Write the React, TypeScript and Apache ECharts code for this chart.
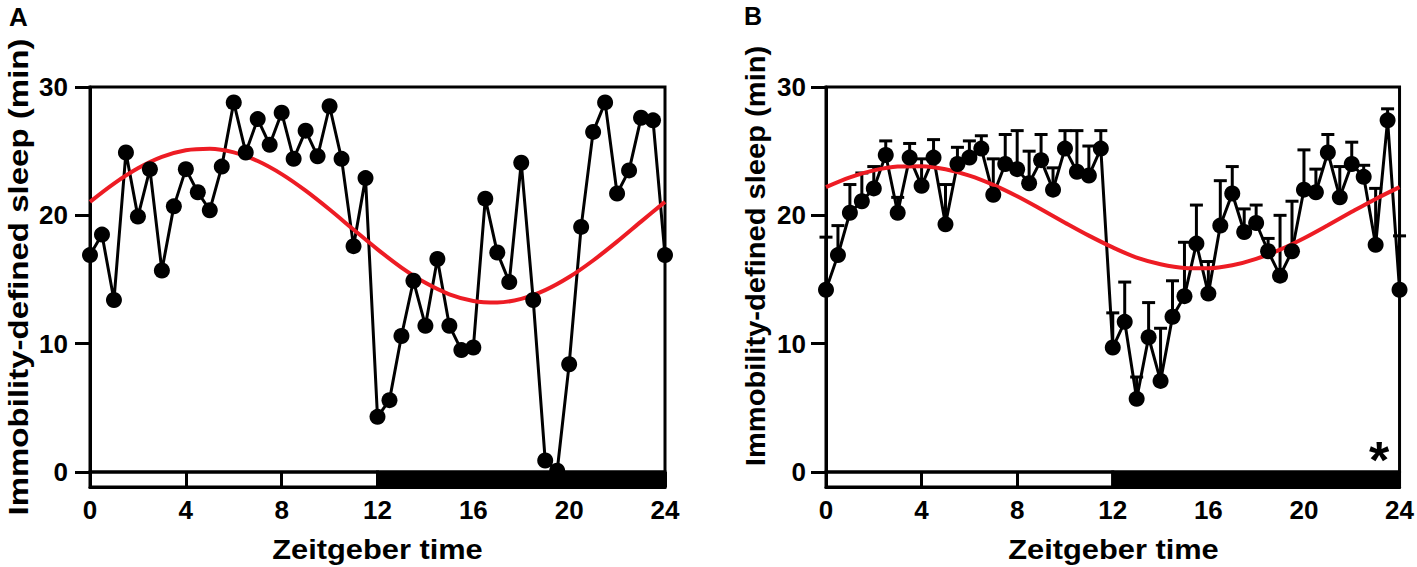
import React, { useEffect, useRef } from "react";
import * as echarts from "echarts";

// Zeitgeber time (h), one bin every 30 min
const hours = [
  0, 0.5, 1, 1.5, 2, 2.5, 3, 3.5, 4, 4.5, 5, 5.5, 6, 6.5, 7, 7.5, 8, 8.5, 9, 9.5, 10, 10.5, 11, 11.5,
  12, 12.5, 13, 13.5, 14, 14.5, 15, 15.5, 16, 16.5, 17, 17.5, 18, 18.5, 19, 19.5, 20, 20.5, 21, 21.5,
  22, 22.5, 23, 23.5, 24,
];

// Panel A: immobility-defined sleep (min)
const sleepA = [
  16.9, 18.5, 13.4, 24.9, 19.9, 23.6, 15.7, 20.7, 23.6, 21.8, 20.4, 23.8,
  28.8, 24.9, 27.5, 25.5, 28.0, 24.4, 26.6, 24.6, 28.5, 24.4, 17.6, 22.9,
  4.3, 5.6, 10.6, 14.9, 11.4, 16.6, 11.4, 9.5, 9.7, 21.3, 17.1, 14.8,
  24.1, 13.4, 0.9, 0.1, 8.4, 19.1, 26.5, 28.8, 21.7, 23.5, 27.6, 27.4, 16.9,
];

// Panel B: mean sleep (min) and upper end of error bar
const sleepB = [
  14.2, 16.9, 20.2, 21.1, 22.1, 24.7, 20.2, 24.5, 22.3, 24.5, 19.3, 24.0,
  24.5, 25.2, 21.6, 24.0, 23.6, 22.5, 24.3, 22.0, 25.2, 23.4, 23.1, 25.2,
  9.7, 11.7, 5.7, 10.5, 7.1, 12.1, 13.7, 17.8, 13.9, 19.2, 21.7, 18.7,
  19.4, 17.2, 15.3, 17.2, 22.0, 21.8, 24.9, 21.4, 24.0, 23.0, 17.7, 27.4, 14.2,
];
const upperB = [
  18.3, 19.2, 22.4, 23.3, 23.8, 25.8, 21.4, 25.6, 24.4, 25.9, 22.4, 25.3,
  25.8, 26.2, 24.4, 26.3, 26.6, 25.0, 26.3, 23.7, 26.6, 26.6, 25.4, 26.6,
  12.4, 14.8, 7.4, 13.2, 11.2, 14.9, 17.9, 20.8, 16.4, 22.7, 23.8, 20.5,
  20.8, 18.2, 20.0, 21.1, 25.1, 23.6, 26.3, 23.8, 25.7, 23.9, 22.1, 28.3, 18.4,
];

// Fitted curves (every hour)
const fitHours = [0, 1, 2, 3, 4, 5, 6, 7, 8, 9, 10, 11, 12, 13, 14, 15, 16, 17, 18, 19, 20, 21, 22, 23, 24];
const fitA = [
  21.05, 22.47, 23.66, 24.55, 25.07, 25.19, 24.91, 24.23, 23.21, 21.92, 20.45, 18.89, 17.35,
  15.93, 14.74, 13.85, 13.33, 13.21, 13.49, 14.17, 15.19, 16.48, 17.95, 19.51, 21.05,
];
const fitB = [
  22.2, 22.96, 23.5, 23.8, 23.83, 23.59, 23.09, 22.37, 21.48, 20.47, 19.43, 18.42, 17.5,
  16.7, 16.19, 15.9, 15.87, 16.11, 16.61, 17.33, 18.22, 19.23, 20.27, 21.28, 22.2,
];

// Light/dark phases
const phaseStart = [0, 12];
const phaseEnd = [12, 24];
const phaseDark = [0, 1];

const xTicks = { min: 0, max: 24, interval: 4 };
const yTicks = { min: 0, max: 30, interval: 10 };

const FONT = "'Liberation Sans', Arial, Helvetica, sans-serif";

function makeAxes(idx: number, labelMargin: number) {
  const xAxis = {
    type: "value",
    gridIndex: idx,
    ...xTicks,
    position: "bottom",
    offset: 15,
    axisLine: { show: true, onZero: false, lineStyle: { color: "#000", width: 3 } },
    axisTick: { show: true, inside: true, length: 15, lineStyle: { color: "#000", width: 3 } },
    axisLabel: { color: "#000", fontSize: 26, fontWeight: "bold", fontFamily: FONT, margin: 10 },
    splitLine: { show: false },
  };
  const yAxis = {
    type: "value",
    gridIndex: idx,
    ...yTicks,
    axisLine: { show: true, onZero: false, lineStyle: { color: "#000", width: 3 } },
    axisTick: { show: true, inside: false, length: 15, lineStyle: { color: "#000", width: 3 } },
    axisLabel: { color: "#000", fontSize: 26, fontWeight: "bold", fontFamily: FONT, margin: labelMargin },
    splitLine: { show: false },
  };
  return { xAxis, yAxis };
}

function ldSeries(idx: number) {
  return {
    type: "custom",
    xAxisIndex: idx,
    yAxisIndex: idx,
    clip: false,
    silent: true,
    z: 2,
    encode: { x: [0, 1], y: 2 },
    data: phaseStart.map((s, i) => [s, phaseEnd[i], 0, phaseDark[i]]),
    renderItem: (params: any, api: any) => {
      const p0 = api.coord([api.value(0), api.value(2)]);
      const p1 = api.coord([api.value(1), api.value(2)]);
      const dark = api.value(3) === 1;
      return {
        type: "rect",
        shape: { x: p0[0], y: p0[1], width: p1[0] - p0[0], height: 15 },
        style: { fill: dark ? "#000" : "none", stroke: "#000", lineWidth: 3 },
      };
    },
  };
}

function lineSeries(idx: number, vals: number[]) {
  return {
    type: "line",
    xAxisIndex: idx,
    yAxisIndex: idx,
    clip: false,
    symbol: "none",
    z: 4,
    lineStyle: { color: "#000", width: 3 },
    data: hours.map((h, i) => [h, vals[i]]),
  };
}

function fitSeries(idx: number, vals: number[]) {
  return {
    type: "line",
    xAxisIndex: idx,
    yAxisIndex: idx,
    clip: false,
    symbol: "none",
    smooth: 0.3,
    z: 5,
    lineStyle: { color: "#ED1C24", width: 4 },
    data: fitHours.map((h, i) => [h, vals[i]]),
  };
}

function dotSeries(idx: number, vals: number[]) {
  return {
    type: "scatter",
    xAxisIndex: idx,
    yAxisIndex: idx,
    clip: false,
    symbol: "circle",
    symbolSize: 16,
    z: 6,
    itemStyle: { color: "#000", opacity: 1 },
    data: hours.map((h, i) => [h, vals[i]]),
  };
}

function errSeries(idx: number, vals: number[], ups: number[]) {
  return {
    type: "custom",
    xAxisIndex: idx,
    yAxisIndex: idx,
    clip: false,
    silent: true,
    z: 3,
    encode: { x: 0, y: [1, 2] },
    data: hours.map((h, i) => [h, vals[i], ups[i]]),
    renderItem: (params: any, api: any) => {
      const p = api.coord([api.value(0), api.value(1)]);
      const q = api.coord([api.value(0), api.value(2)]);
      const st = { stroke: "#000", lineWidth: 3 };
      return {
        type: "group",
        children: [
          { type: "line", shape: { x1: p[0], y1: p[1], x2: q[0], y2: q[1] }, style: st },
          { type: "line", shape: { x1: q[0] - 6.5, y1: q[1], x2: q[0] + 6.5, y2: q[1] }, style: st },
        ],
      };
    },
  };
}

export default function App() {
  const ref = useRef<HTMLDivElement>(null);
  useEffect(() => {
    if (!ref.current) return;
    const chart = echarts.init(ref.current, null, { renderer: "svg" });
    const a = makeAxes(0, 22);
    const b = makeAxes(1, 20);
    const nameStyle = { fill: "#000", font: `bold 28px ${FONT}`, align: "center", verticalAlign: "middle" };
    chart.setOption({
      animation: false,
      backgroundColor: "#fff",
      textStyle: { fontFamily: FONT },
      grid: [
        { left: 90, top: 87, width: 575, height: 385, show: true, borderColor: "#000", borderWidth: 3, backgroundColor: "transparent" },
        { left: 826, top: 87, width: 575, height: 385, show: true, borderColor: "#000", borderWidth: 3, backgroundColor: "transparent" },
      ],
      xAxis: [a.xAxis, b.xAxis],
      yAxis: [a.yAxis, b.yAxis],
      series: [
        ldSeries(0),
        lineSeries(0, sleepA),
        fitSeries(0, fitA),
        dotSeries(0, sleepA),
        ldSeries(1),
        errSeries(1, sleepB, upperB),
        lineSeries(1, sleepB),
        fitSeries(1, fitB),
        dotSeries(1, sleepB),
      ],
      graphic: [
        { type: "text", left: 9, top: 4, style: { text: "A", fill: "#000", font: `bold 26px ${FONT}` } },
        { type: "text", left: 744, top: 3, style: { text: "B", fill: "#000", font: `bold 25px ${FONT}` } },
        { type: "text", x: 18, y: 277, rotation: Math.PI / 2, scaleX: 1.18, style: { ...nameStyle, text: "Immobility-defined sleep (min)" } },
        { type: "text", x: 755, y: 256, rotation: Math.PI / 2, scaleX: 1.04, style: { ...nameStyle, text: "Immobility-defined sleep (min)" } },
        { type: "text", x: 377.5, y: 549, scaleX: 1.1, style: { ...nameStyle, text: "Zeitgeber time" } },
        { type: "text", x: 1113.5, y: 549, scaleX: 1.1, style: { ...nameStyle, text: "Zeitgeber time" } },
        { type: "text", x: 1379, y: 460, style: { text: "*", fill: "#000", font: `bold 52px ${FONT}`, align: "center", verticalAlign: "middle" } },
      ],
    });
    return () => chart.dispose();
  }, []);
  return <div ref={ref} style={{ position: "fixed", left: 0, top: 0, width: 1417, height: 567 }} />;
}
